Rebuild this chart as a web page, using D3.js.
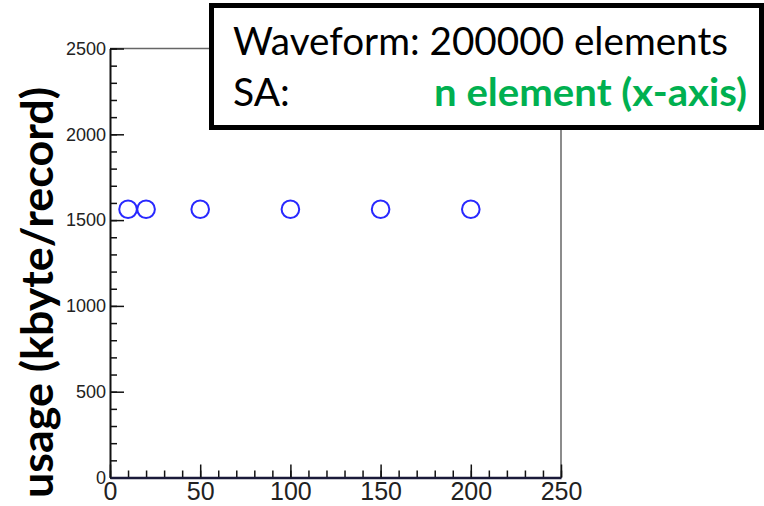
<!DOCTYPE html>
<html>
<head>
<meta charset="utf-8">
<script src="https://cdn.jsdelivr.net/npm/d3@7"></script>
<style>
  html, body { margin: 0; padding: 0; background: #fff; }
  svg { display: block; }
</style>
</head>
<body>
<svg id="chart" width="764" height="506"></svg>
<script>
// ---- data ----
const nElements = [10, 20, 50, 100, 150, 200];
const usage = [1563, 1563, 1563, 1563, 1563, 1563];
const xTicks = [0, 50, 100, 150, 200, 250];
const yTicks = [0, 500, 1000, 1500, 2000, 2500];
const yLabelText = "usage (kbyte/record)";
const boxLine1 = "Waveform: 200000 elements";
const boxLine2a = "SA:";
const boxLine2b = "n element (x-axis)";

const svg = d3.select("#chart");
const x = d3.scaleLinear().domain([0, 250]).range([110, 561]);
const y = d3.scaleLinear().domain([0, 2500]).range([477.5, 48.5]);
const fmt = d3.format("d");

// frame (top & right)
svg.append("line").attr("x1", x(0)).attr("x2", x(250)).attr("y1", y(2500)).attr("y2", y(2500))
  .attr("stroke", "#666").attr("stroke-width", 1.5);
svg.append("line").attr("x1", x(250)).attr("x2", x(250)).attr("y1", y(2500)).attr("y2", y(0))
  .attr("stroke", "#666").attr("stroke-width", 1.5);

// minor y ticks
svg.append("g").attr("transform", `translate(${x(0)},0)`)
  .call(d3.axisLeft(y).tickValues(d3.range(0, 2501, 100)).tickSize(-7).tickFormat(""))
  .call(g => g.select(".domain").remove())
  .call(g => g.selectAll("line").attr("stroke", "#111").attr("stroke-width", 1.5));
// major y ticks
svg.append("g").attr("transform", `translate(${x(0)},0)`)
  .call(d3.axisLeft(y).tickValues(yTicks).tickFormat(fmt).tickSizeInner(-14).tickSizeOuter(0).tickPadding(4))
  .call(g => g.select(".domain").attr("stroke", "#111").attr("stroke-width", 2))
  .call(g => g.selectAll("line").attr("stroke", "#111").attr("stroke-width", 1.5))
  .call(g => g.selectAll("text").attr("font-family", "Liberation Sans, Arial, sans-serif")
    .attr("font-size", 18).attr("fill", "#222"));

// minor x ticks
svg.append("g").attr("transform", `translate(0,${y(0)})`)
  .call(d3.axisBottom(x).tickValues(d3.range(0, 251, 10)).tickSize(-7).tickFormat(""))
  .call(g => g.select(".domain").remove())
  .call(g => g.selectAll("line").attr("stroke", "#111").attr("stroke-width", 1.5));
// major x ticks
svg.append("g").attr("transform", `translate(0,${y(0)})`)
  .call(d3.axisBottom(x).tickValues(xTicks).tickFormat(fmt).tickSizeInner(-13).tickSizeOuter(0).tickPadding(5))
  .call(g => g.select(".domain").attr("stroke", "#1a1a3a").attr("stroke-width", 2.5))
  .call(g => g.selectAll("line").attr("stroke", "#111").attr("stroke-width", 1.5))
  .call(g => g.selectAll("text").attr("font-family", "Liberation Sans, Arial, sans-serif")
    .attr("font-size", 25).attr("fill", "#222"));

// points
svg.append("g").selectAll("circle").data(nElements).join("circle")
  .attr("cx", (d) => x(d))
  .attr("cy", (d, i) => y(usage[i]))
  .attr("r", 8.8)
  .attr("fill", "none")
  .attr("stroke", "#2828ff")
  .attr("stroke-width", 2);

// y label
svg.append("text")
  .attr("transform", "translate(53,498) rotate(-90)")
  .attr("font-family", "Lato, 'Open Sans', sans-serif")
  .attr("font-weight", "bold")
  .attr("font-size", 44)
  .attr("fill", "#000")
  .attr("textLength", 411)
  .attr("lengthAdjust", "spacingAndGlyphs")
  .text(yLabelText);

// annotation box
svg.append("rect")
  .attr("x", 211.5).attr("y", 5.5).attr("width", 550).attr("height", 122)
  .attr("fill", "#fff").attr("stroke", "#000").attr("stroke-width", 5);

svg.append("text")
  .attr("x", 233).attr("y", 55)
  .attr("font-family", "Lato, 'Open Sans', sans-serif")
  .attr("font-size", 39).attr("fill", "#000")
  .attr("textLength", 495).attr("lengthAdjust", "spacingAndGlyphs")
  .text(boxLine1);
svg.append("text")
  .attr("x", 233).attr("y", 106)
  .attr("font-family", "Lato, 'Open Sans', sans-serif")
  .attr("font-size", 39).attr("fill", "#000")
  .text(boxLine2a);
svg.append("text")
  .attr("x", 434).attr("y", 106)
  .attr("font-family", "Lato, 'Open Sans', sans-serif")
  .attr("font-weight", "bold")
  .attr("font-size", 39).attr("fill", "#00b050")
  .attr("textLength", 313).attr("lengthAdjust", "spacingAndGlyphs")
  .text(boxLine2b);
</script>
</body>
</html>
